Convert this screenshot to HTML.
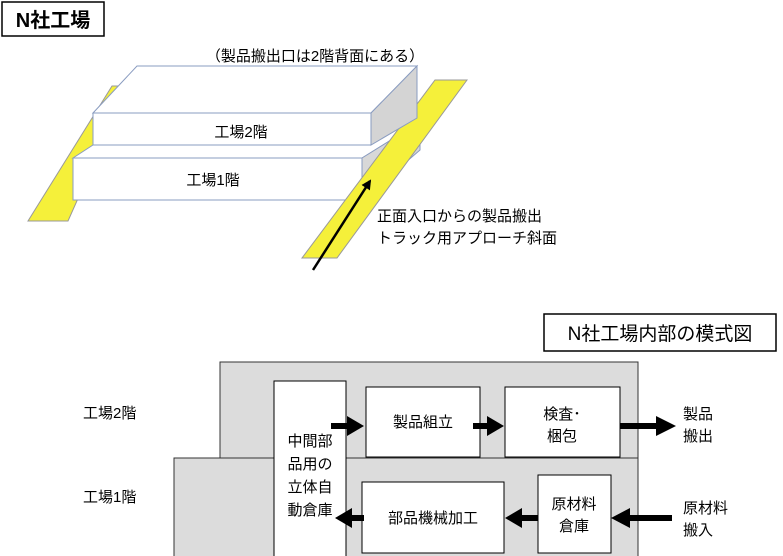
<!DOCTYPE html>
<html><head><meta charset="utf-8"><style>
html,body{margin:0;padding:0;background:#fff;}
svg{display:block;font-family:"Liberation Sans","Noto Sans CJK JP",sans-serif;}
</style></head><body>
<svg width="783" height="556" viewBox="0 0 783 556" xmlns="http://www.w3.org/2000/svg">
<defs>
<marker id="ah" markerWidth="10" markerHeight="10" refX="8" refY="5" orient="auto" markerUnits="userSpaceOnUse">
<path d="M0,0 L10,5 L0,10 z" fill="#000"/></marker>
</defs>
<!-- top title -->
<rect x="2" y="2" width="102" height="34" fill="#fff" stroke="#000" stroke-width="1.5"/>
<text x="53" y="27" font-size="20" text-anchor="middle" font-weight="bold">N社工場</text>
<text x="315" y="61" font-size="15" text-anchor="middle">（製品搬出口は2階背面にある）</text>
<!-- left ramp -->
<polygon points="28,221 68,221 128,86 112,86" fill="#f5f03a" stroke="#999" stroke-width="1"/>
<!-- 1F box -->
<polygon points="73,158 93,145 420,122 362,158" fill="#fff" stroke="#8a9cc0"/>
<polygon points="362,158 420,122 420,150 362,200" fill="#d8d8d8" stroke="#8a9cc0"/>
<rect x="73" y="158" width="289" height="42" fill="#fff" stroke="#8a9cc0"/>
<text x="213" y="185" font-size="15" text-anchor="middle">工場1階</text>
<!-- right ramp -->
<polygon points="302,258 337,258 467,80 435,80" fill="#f5f03a" stroke="#999" stroke-width="1"/>
<!-- 2F box -->
<polygon points="93,113 137,66 417,66 371,113" fill="#fff" stroke="#8a9cc0"/>
<polygon points="371,113 417,66 417,118 371,145" fill="#d4d4d4" stroke="#8a9cc0"/>
<rect x="93" y="113" width="278" height="32" fill="#fff" stroke="#8a9cc0"/>
<text x="241" y="137" font-size="15" text-anchor="middle">工場2階</text>
<!-- arrow -->
<line x1="313" y1="270" x2="370" y2="181" stroke="#000" stroke-width="2.5" marker-end="url(#ah)"/>
<text x="377" y="221" font-size="15">正面入口からの製品搬出</text>
<text x="377" y="243" font-size="15">トラック用アプローチ斜面</text>

<!-- bottom diagram -->
<rect x="544" y="314" width="232" height="37" fill="#fff" stroke="#000" stroke-width="1.5"/>
<text x="660" y="340" font-size="19" text-anchor="middle">N社工場内部の模式図</text>
<rect x="220" y="362" width="418" height="96" fill="#dcdcdc" stroke="#333" stroke-width="1"/>
<rect x="174" y="458" width="464" height="100" fill="#dcdcdc" stroke="#333" stroke-width="1"/>
<text x="83" y="418" font-size="15">工場2階</text>
<text x="83" y="502" font-size="15">工場1階</text>
<rect x="274" y="381" width="72" height="178" fill="#fff" stroke="#000"/>
<text font-size="15" text-anchor="middle"><tspan x="310" y="446">中間部</tspan><tspan x="310" y="469">品用の</tspan><tspan x="310" y="492">立体自</tspan><tspan x="310" y="515">動倉庫</tspan></text>
<rect x="366" y="387" width="114" height="70" fill="#fff" stroke="#000"/>
<text x="423" y="427" font-size="15" text-anchor="middle">製品組立</text>
<rect x="505" y="387" width="115" height="70" fill="#fff" stroke="#000"/>
<text font-size="15" text-anchor="middle"><tspan x="562" y="419">検査･</tspan><tspan x="562" y="441">梱包</tspan></text>
<rect x="362" y="482" width="142" height="71" fill="#fff" stroke="#000"/>
<text x="433" y="523" font-size="15" text-anchor="middle">部品機械加工</text>
<rect x="538" y="475" width="73" height="78" fill="#fff" stroke="#000"/>
<text font-size="15" text-anchor="middle"><tspan x="574" y="509">原材料</tspan><tspan x="574" y="531">倉庫</tspan></text>
<text font-size="15"><tspan x="683" y="419">製品</tspan><tspan x="683" y="441">搬出</tspan></text>
<text font-size="15"><tspan x="683" y="513">原材料</tspan><tspan x="683" y="535">搬入</tspan></text>
<!-- thick arrows -->
<g fill="#000">
<rect x="331" y="423" width="18" height="6"/><polygon points="347,416 364,426 347,436"/>
<rect x="473" y="423" width="16" height="6"/><polygon points="487,416 504,426 487,436"/>
<rect x="620" y="423" width="38" height="6"/><polygon points="656,416 676,426 656,436"/>
<rect x="628" y="515" width="44" height="6"/><polygon points="630,508 611,518 630,528"/>
<rect x="520" y="515" width="18" height="6"/><polygon points="522,508 505,518 522,528"/>
<rect x="350" y="515" width="14" height="6"/><polygon points="352,508 335,518 352,528"/>
</g>
</svg>
</body></html>
